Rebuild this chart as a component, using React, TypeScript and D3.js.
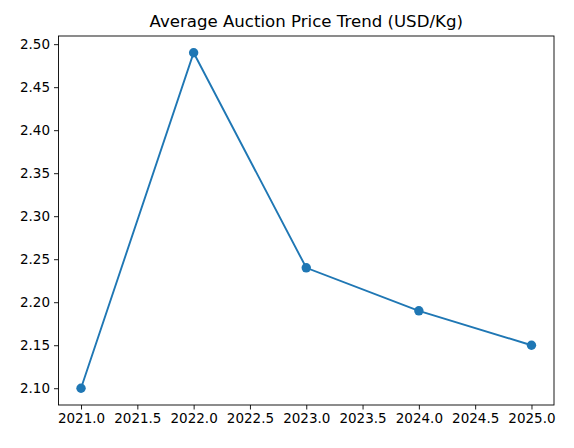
import React, { useEffect, useRef } from 'react';
import * as d3 from 'd3';

const years = [2021, 2022, 2023, 2024, 2025];
const prices = [2.1, 2.49, 2.24, 2.19, 2.15];
const xTicks = [2021.0, 2021.5, 2022.0, 2022.5, 2023.0, 2023.5, 2024.0, 2024.5, 2025.0];
const yTicks = [2.1, 2.15, 2.2, 2.25, 2.3, 2.35, 2.4, 2.45, 2.5];

const App: React.FC = () => {
  const svgRef = useRef<SVGSVGElement>(null);

  useEffect(() => {
    if (!svgRef.current) return;
    const svg = d3.select(svgRef.current);
    svg.selectAll('*').remove();

    const W = 574, H = 448;
    const left = 58.5, right = 554, top = 36, bottom = 405;
    const font = 'DejaVu Sans, sans-serif';

    svg.attr('width', W).attr('height', H);
    svg.append('rect').attr('width', W).attr('height', H).attr('fill', '#fff');

    const xPad = (2025 - 2021) * 0.05;
    const yPad = (2.49 - 2.1) * 0.05;
    const x = d3.scaleLinear().domain([2021 - xPad, 2025 + xPad]).range([left, right]);
    const y = d3.scaleLinear().domain([2.1 - yPad, 2.49 + yPad]).range([bottom, top]);

    // Axes
    const xAxis = svg.append('g')
      .attr('transform', `translate(0, ${bottom})`)
      .call(d3.axisBottom(x).tickValues(xTicks).tickFormat(d => (+d).toFixed(1)).tickSize(4.5).tickPadding(4));
    const yAxis = svg.append('g')
      .attr('transform', `translate(${left}, 0)`)
      .call(d3.axisLeft(y).tickValues(yTicks).tickFormat(d => (+d).toFixed(2)).tickSize(4.5).tickPadding(4));

    [xAxis, yAxis].forEach(a => {
      a.select('.domain').remove();
      a.selectAll('line').attr('stroke', '#000').attr('stroke-width', 0.9);
      a.selectAll('text').attr('fill', '#000').style('font-family', font).style('font-size', '13.5px');
    });

    // Frame
    svg.append('rect')
      .attr('x', left).attr('y', top)
      .attr('width', right - left).attr('height', bottom - top)
      .attr('fill', 'none').attr('stroke', '#000').attr('stroke-width', 0.9);

    // Line
    const line = d3.line<number>()
      .x((_, i) => x(years[i]))
      .y(d => y(d));
    svg.append('path')
      .datum(prices)
      .attr('d', line)
      .attr('fill', 'none')
      .attr('stroke', '#1f77b4')
      .attr('stroke-width', 1.9);

    svg.selectAll('.dot')
      .data(prices)
      .enter()
      .append('circle')
      .attr('class', 'dot')
      .attr('cx', (_, i) => x(years[i]))
      .attr('cy', d => y(d))
      .attr('r', 4.7)
      .attr('fill', '#1f77b4');

    // Title
    svg.append('text')
      .attr('x', (left + right) / 2)
      .attr('y', top - 9)
      .attr('text-anchor', 'middle')
      .style('font-family', font)
      .style('font-size', '16.6px')
      .attr('fill', '#000')
      .text('Average Auction Price Trend (USD/Kg)');
  }, []);

  return (
    <div style={{ position: 'absolute', left: 0, top: 0 }}>
      <svg ref={svgRef}></svg>
    </div>
  );
};

export default App;
